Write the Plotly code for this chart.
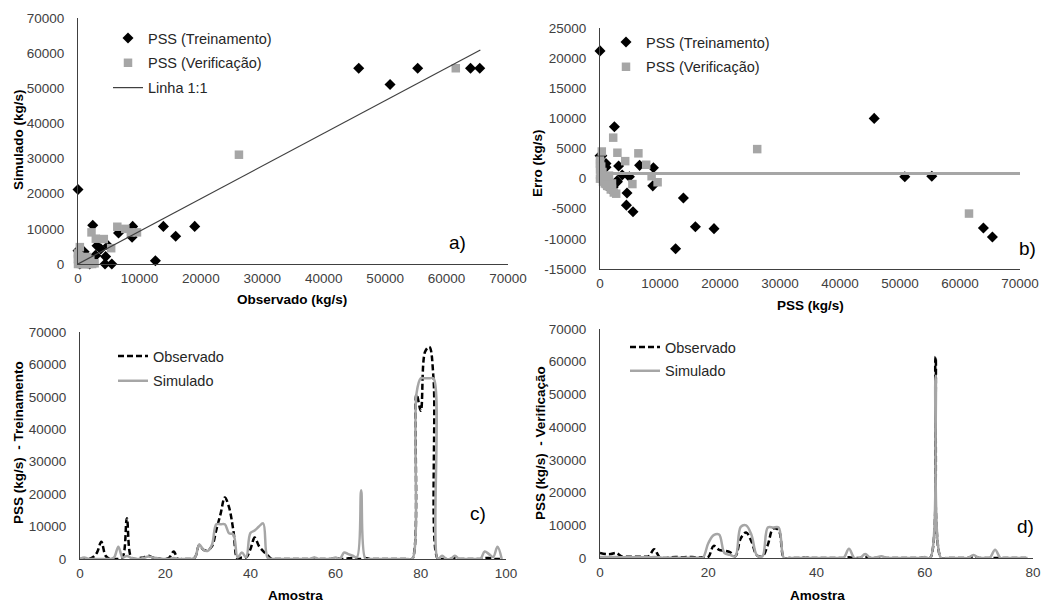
import plotly.graph_objects as go

# ---------------- Data ----------------
# Panel a/b: scatter pairs (observed, simulated) in kg/s
trein_obs = [0, 2400, 8900, 13900, 19000, 15900, 12600, 6600, 8800, 3100, 3700, 4500, 4400, 5500,
             1000, 2900, 45700, 50800, 55300, 63900, 65400,
             300, 800, 1900, 2800, 500, 300, 1000, 200, 0, 1000, 4900, 1500, 600, 2200]
trein_sim = [21200, 11000, 10700, 10700, 10700, 7900, 950, 8800, 7600, 5200, 4300, 2100, 0, 0,
             2900, 2400, 55700, 51100, 55700, 55700, 55700,
             4100, 2600, 0, 2400, 500, 0, 800, 300, 3800, 3500, 5200, 300, 1200, 800]

verif_obs = [26200, 61500, 6400, 7700, 9600, 2200, 2900, 4200, 5400, 300, 8600, 2700,
             0, 0, 100, 0, 200, 100, 0, 300, 500, 800, 1000, 1200, 1500, 1800, 2000, 2300,
             600, 400, 2000, 1500, 200, 700, 1100, 1300]
verif_sim = [31100, 55700, 10600, 10000, 9000, 9000, 7200, 7100, 4500, 4800, 9000, 200,
             3000, 2500, 2000, 1500, 1000, 500, 0, 300, 0, 0, 100, 0, 200, 0, 300, 0,
             800, 1500, 1200, 2000, 2200, 400, 600, 300]

# 1:1 line (as drawn) and mean error line
linha_x = [0, 65500]
linha_y = [0, 60900]
erro_medio = 850
erro_medio_x = [0, 70000]

# Panel c: training series
trein_amostra = list(range(100))
trein_serie_obs = [0, 0, 0, 500, 2000, 5300, 1000, 0, 0, 0,
                   500, 12600, 500, 0, 300, 500, 1000, 500, 300, 0,
                   0, 500, 2300, 0, 0, 0, 0, 500, 4300, 2800,
                   2800, 4000, 9000, 13900, 19000, 15900, 8800, 0, 500, 500,
                   3000, 6600, 4000, 2400, 1200, 0, 0, 0, 0, 0,
                   0, 0, 0, 0, 0, 300, 0, 0, 0, 0,
                   300, 0, 0, 200, 300, 0, 0, 300, 0, 0,
                   0, 0, 0, 0, 0, 0, 0, 0, 0, 50800,
                   45700, 63900, 65400, 55300, 0, 0, 0, 0, 300, 0,
                   0, 0, 0, 0, 0, 300, 300, 0, 0, 0]
trein_serie_sim = [0, 500, 0, 0, 0, 0, 0, 0, 500, 3800,
                   500, 950, 300, 0, 0, 300, 800, 500, 300, 0,
                   0, 0, 300, 0, 0, 0, 0, 500, 4500, 2800,
                   2500, 4500, 10700, 10700, 10700, 7900, 7600, 500, 2000, 500,
                   8000, 8800, 10000, 11000, 500, 0, 0, 0, 0, 0,
                   0, 0, 0, 0, 0, 500, 0, 0, 0, 0,
                   500, 0, 2000, 1500, 1000, 500, 21200, 0, 0, 0,
                   0, 0, 0, 0, 0, 0, 0, 0, 0, 51100,
                   55700, 55700, 55700, 55700, 0, 1000, 0, 0, 1000, 0,
                   0, 0, 0, 0, 0, 2300, 1500, 600, 3800, 0]

# Panel d: verification series
verif_amostra = list(range(80))
verif_serie_obs = [1500, 1200, 1200, 1500, 500, 400, 400, 400, 400, 500,
                   2700, 300, 0, 200, 300, 200, 300, 300, 200, 200,
                   300, 3700, 2500, 2200, 1800, 500, 6000, 7800, 5000, 800,
                   500, 4000, 9000, 8500, 0, 0, 0, 0, 200, 0,
                   0, 0, 0, 0, 0, 0, 200, 0, 0, 300,
                   0, 0, 200, 0, 0, 0, 0, 0, 0, 0,
                   200, 0, 61500, 0, 0, 0, 0, 0, 0, 500,
                   0, 0, 0, 0, 0, 0, 0, 0, 0, 0]
verif_serie_sim = [300, 300, 300, 300, 200, 200, 200, 200, 200, 200,
                   300, 200, 0, 100, 100, 100, 100, 100, 100, 100,
                   4500, 7000, 7200, 1500, 1000, 500, 9500, 10000, 7000, 800,
                   500, 9300, 9300, 9300, 0, 0, 0, 0, 200, 0,
                   0, 0, 0, 0, 0, 0, 2800, 0, 0, 1200,
                   0, 200, 500, 0, 0, 0, 0, 0, 0, 0,
                   300, 0, 55700, 0, 0, 0, 0, 0, 0, 900,
                   0, 0, 0, 2500, 0, 0, 0, 0, 0, 0]

# Tick labels
ticks_pss = [0, 10000, 20000, 30000, 40000, 50000, 60000, 70000]
ticks_pss_txt = ["0", "10000", "20000", "30000", "40000", "50000", "60000", "70000"]
ticks_erro = [-15000, -10000, -5000, 0, 5000, 10000, 15000, 20000, 25000]
ticks_erro_txt = ["-15000", "-10000", "-5000", "0", "5000", "10000", "15000", "20000", "25000"]
ticks_amostra_c = [0, 20, 40, 60, 80, 100]
ticks_amostra_d = [0, 20, 40, 60, 80]

# ---------------- Figure ----------------
W, H = 1046, 602
FONT = "Liberation Sans, Arial, sans-serif"
GRAY = "#a6a6a6"
TXT = "#404040"

def px_x(p):
    return p / W

def px_y(p):
    return 1 - p / H

fig = go.Figure()

erro_trein = [s - o for o, s in zip(trein_obs, trein_sim)]
erro_verif = [s - o for o, s in zip(verif_obs, verif_sim)]

# Panel a
fig.add_trace(go.Scatter(x=trein_obs, y=trein_sim, mode="markers", name="PSS (Treinamento)",
                         marker=dict(symbol="diamond", size=8.5, color="black"),
                         xaxis="x", yaxis="y", legend="legend", legendgroup="a1", cliponaxis=False))
fig.add_trace(go.Scatter(x=verif_obs, y=verif_sim, mode="markers", name="PSS (Verificação)",
                         marker=dict(symbol="square", size=8.5, color=GRAY),
                         xaxis="x", yaxis="y", legend="legend", legendgroup="a2", cliponaxis=False))
fig.add_trace(go.Scatter(x=linha_x, y=linha_y, mode="lines", name="Linha 1:1",
                         line=dict(color="#404040", width=1.2),
                         xaxis="x", yaxis="y", legend="legend", legendgroup="a3"))

# Panel b
fig.add_trace(go.Scatter(x=trein_obs, y=erro_trein, mode="markers", name="PSS (Treinamento)",
                         marker=dict(symbol="diamond", size=8.5, color="black"),
                         xaxis="x2", yaxis="y2", legend="legend2", legendgroup="b1", cliponaxis=False))
fig.add_trace(go.Scatter(x=verif_obs, y=erro_verif, mode="markers", name="PSS (Verificação)",
                         marker=dict(symbol="square", size=8.5, color=GRAY),
                         xaxis="x2", yaxis="y2", legend="legend2", legendgroup="b2", cliponaxis=False))
fig.add_trace(go.Scatter(x=erro_medio_x, y=[erro_medio] * len(erro_medio_x), mode="lines",
                         line=dict(color=GRAY, width=3), showlegend=False,
                         xaxis="x2", yaxis="y2"))

# Panel c
fig.add_trace(go.Scatter(x=trein_amostra, y=trein_serie_obs, mode="lines", name="Observado",
                         line=dict(color="black", width=2.5, dash="6px,3px", shape="spline"),
                         xaxis="x3", yaxis="y3", legend="legend3", legendgroup="c1"))
fig.add_trace(go.Scatter(x=trein_amostra, y=trein_serie_sim, mode="lines", name="Simulado",
                         line=dict(color=GRAY, width=2.5, shape="spline"),
                         xaxis="x3", yaxis="y3", legend="legend3", legendgroup="c2"))

# Panel d
fig.add_trace(go.Scatter(x=verif_amostra, y=verif_serie_obs, mode="lines", name="Observado",
                         line=dict(color="black", width=2.5, dash="6px,3px", shape="spline"),
                         xaxis="x4", yaxis="y4", legend="legend4", legendgroup="d1"))
fig.add_trace(go.Scatter(x=verif_amostra, y=verif_serie_sim, mode="lines", name="Simulado",
                         line=dict(color=GRAY, width=2.5, shape="spline"),
                         xaxis="x4", yaxis="y4", legend="legend4", legendgroup="d2"))

def axis(domain, rng, tv, tt, anchor, standoff):
    return dict(domain=domain, range=rng, tickmode="array", tickvals=tv, ticktext=tt,
                anchor=anchor, automargin=False,
                showgrid=False, zeroline=False, showline=True, linecolor="#404040", linewidth=1,
                ticks="", ticklabelstandoff=standoff,
                tickfont=dict(family=FONT, size=13.5, color=TXT), fixedrange=True)

def legend_at(left_px, top_px, gap):
    return dict(x=px_x(left_px), y=px_y(top_px), xanchor="left", yanchor="top",
                bgcolor="rgba(0,0,0,0)", borderwidth=0, tracegroupgap=gap,
                traceorder="grouped",
                font=dict(family=FONT, size=14.5, color="#262626"), itemwidth=30)

fig.update_layout(
    template="none",
    width=W, height=H, margin=dict(l=0, r=0, t=0, b=0, pad=0, autoexpand=False),
    paper_bgcolor="white", plot_bgcolor="white",
    font=dict(family=FONT, size=14, color="black"),
    xaxis=axis([px_x(78), px_x(508)], [0, 70000], ticks_pss, ticks_pss_txt, "y", 2),
    yaxis=axis([px_y(264), px_y(18)], [0, 70000], ticks_pss, ticks_pss_txt, "x", 10),
    xaxis2=axis([px_x(600), px_x(1020)], [0, 70000], ticks_pss, ticks_pss_txt, "y2", 2),
    yaxis2=axis([px_y(269), px_y(28)], [-15000, 25000], ticks_erro, ticks_erro_txt, "x2", 10),
    xaxis3=axis([px_x(80), px_x(506)], [0, 100], ticks_amostra_c,
                [str(v) for v in ticks_amostra_c], "y3", 2),
    yaxis3=axis([px_y(559), px_y(332)], [0, 70000], ticks_pss, ticks_pss_txt, "x3", 10),
    xaxis4=axis([px_x(600), px_x(1033)], [0, 80], ticks_amostra_d,
                [str(v) for v in ticks_amostra_d], "y4", 2),
    yaxis4=axis([px_y(558), px_y(329)], [0, 70000], ticks_pss, ticks_pss_txt, "x4", 10),
    legend=legend_at(108, 22, 3),
    legend2=legend_at(606, 26, 3),
    legend3=legend_at(113, 340, 3),
    legend4=legend_at(625, 331, 2),
    showlegend=True,
)

ann_title = dict(family=FONT, size=13.5, color="black")
annotations = [
    dict(text="<b>Observado (kg/s)</b>", x=px_x(292), y=px_y(299)),
    dict(text="<b>Simulado (kg/s)</b>", x=px_x(19), y=px_y(140), textangle=-90),
    dict(text="<b>Erro (kg/s)</b>", x=px_x(538), y=px_y(163), textangle=-90),
    dict(text="<b>PSS (kg/s)</b>", x=px_x(810), y=px_y(305)),
    dict(text="<b>PSS (kg/s)  - Treinamento</b>", x=px_x(18), y=px_y(443), textangle=-90),
    dict(text="<b>PSS (kg/s)  - Verificação</b>", x=px_x(540), y=px_y(443), textangle=-90),
    dict(text="<b>Amostra</b>", x=px_x(295), y=px_y(595)),
    dict(text="<b>Amostra</b>", x=px_x(817), y=px_y(595)),
]
for a in annotations:
    a.update(xref="paper", yref="paper", showarrow=False, font=ann_title,
             xanchor="center", yanchor="middle")

panel_font = dict(family=FONT, size=19, color="black")
for lab, xx, yy in [("a)", 457, 243), ("b)", 1027, 248), ("c)", 478, 513), ("d)", 1025, 526)]:
    annotations.append(dict(text=lab, x=px_x(xx), y=px_y(yy), xref="paper", yref="paper",
                            showarrow=False, font=panel_font, xanchor="center", yanchor="middle"))

fig.update_layout(annotations=annotations)

fig.write_html("out.html", config={"displayModeBar": False, "staticPlot": False},
               post_script="document.body.style.margin='0px';")
